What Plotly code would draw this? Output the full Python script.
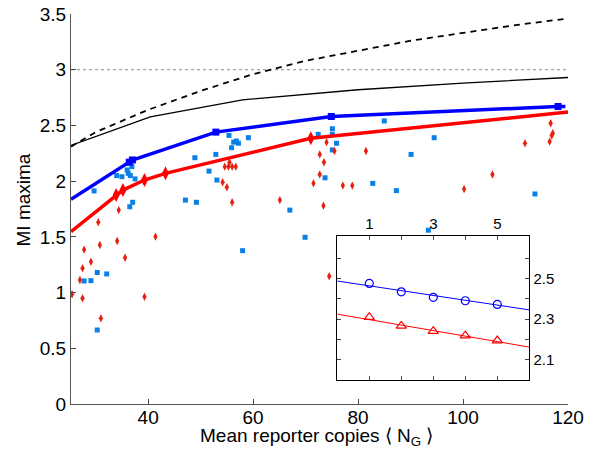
import plotly.graph_objects as go

# ---------------- data ----------------
bound_x = [25.3, 30, 40, 50, 60, 70, 80, 90, 100, 110, 120]
bound_dashed = [2.31, 2.44, 2.64, 2.81, 2.96, 3.08, 3.17, 3.26, 3.33, 3.40, 3.46]

solid_x = [25.3, 40.4, 58, 80, 100, 120]
solid_y = [2.32, 2.576, 2.73, 2.82, 2.88, 2.93]

blue_line_x = [25.3, 36.4, 37.0, 52.9, 74.9, 118.1, 119.5]
blue_line_y = [1.837, 2.17, 2.19, 2.44, 2.58, 2.67, 2.67]
blue_marker_idx = [1, 2, 3, 4, 5]

red_line_x = [25.3, 33.9, 35.2, 39.3, 43.3, 71.0, 120]
red_line_y = [1.547, 1.876, 1.92, 2.01, 2.07, 2.385, 2.62]
red_marker_idx = [1, 2, 3, 4, 5]

blue_pts_x = [29.7, 34.0, 35.0, 36.0, 36.4, 36.9, 36.2, 36.6, 37.5, 36.5, 37.05, 47.1, 49.2,
              48.9, 51.6, 52.9, 53.1, 55.4, 55.9, 56.3, 56.8, 57.2, 59.1, 67.0, 72.4, 75.1,
              75.1, 75.9, 75.1, 73.7, 85.0, 94.5, 90.1, 82.8, 87.3, 113.7, 27.8, 29.1, 30.3,
              32.1, 30.3, 58.0, 69.9, 93.4]
blue_pts_y = [1.912, 2.05, 2.04, 2.10, 2.16, 2.13, 2.07, 2.05, 2.02, 1.77, 1.81, 1.83, 1.81,
              2.21, 2.09, 2.24, 2.01, 2.41, 2.30, 2.35, 2.36, 2.34, 2.39, 1.74, 2.42, 2.47,
              2.42, 2.34, 2.28, 2.03, 2.54, 2.39, 2.24, 1.98, 1.915, 1.885, 1.104, 1.107, 1.18,
              1.167, 0.664, 1.376, 1.496, 1.56]

red_pts_x = [34.4, 55.5, 54.6, 55.3, 56.0, 56.7, 54.2, 55.0, 56.0, 65.1, 72.7, 73.5, 72.7,
             71.5, 74.0, 75.5, 73.4, 77.1, 78.9, 81.5, 100.2, 105.6, 111.8, 116.7, 117.1,
             116.9, 116.5, 25.5, 27.0, 27.5, 27.5, 27.8, 29.1, 30.5, 30.8, 31.0, 34.1, 35.6,
             39.3, 41.4, 74.5]
red_pts_y = [1.74, 2.17, 2.13, 2.13, 2.13, 2.13, 1.99, 1.945, 1.81, 1.83, 2.24, 2.17, 2.06,
             1.98, 2.35, 2.27, 1.78, 1.96, 1.96, 2.27, 1.93, 2.06, 2.34, 2.52, 2.43,
             2.41, 2.355, 0.985, 1.113, 1.218, 0.949, 1.385, 1.277, 1.631, 1.427, 0.769, 1.463,
             1.313, 0.963, 1.502, 1.146]

dotted_x = [25.3, 120]
dotted_y = [3.0, 3.0]

inset_x = [1, 2, 3, 4, 5]
inset_blue = [2.475, 2.434, 2.407, 2.39, 2.372]
inset_red = [2.309, 2.266, 2.24, 2.218, 2.194]
inset_fit_x = [0, 6]
inset_blue_fit = [2.487, 2.345]
inset_red_fit = [2.324, 2.162]

main_xticks = [40, 60, 80, 100, 120]
main_yticks = [0, 0.5, 1, 1.5, 2, 2.5, 3, 3.5]
inset_xticks = [1, 2, 3, 4, 5]
inset_xtext = ["1", "", "3", "", "5"]
inset_yticks = [2.1, 2.2, 2.3, 2.4, 2.5, 2.6]
inset_ytext = ["2.1", "", "2.3", "", "2.5", ""]

x_title = "Mean reporter copies ⟨ N<sub>G</sub> ⟩"
y_title = "MI maxima"

FONT = "Liberation Sans, Arial, sans-serif"
BLUE = "#0000ff"
RED = "#ff0000"
BLUE_PT = "#0a80e6"
RED_PT = "#e8200f"

fig = go.Figure()

# scatter clouds
fig.add_trace(go.Scatter(x=blue_pts_x, y=blue_pts_y, mode="markers",
                         marker=dict(symbol="square", size=5, color=BLUE_PT), showlegend=False))
fig.add_trace(go.Scatter(x=red_pts_x, y=red_pts_y, mode="markers",
                         marker=dict(symbol="diamond-tall", size=6, color=RED_PT), showlegend=False))

# dotted reference
fig.add_trace(go.Scatter(x=dotted_x, y=dotted_y, mode="lines",
                         line=dict(color="#888888", width=1, dash="dot"), showlegend=False))
# bounds
fig.add_trace(go.Scatter(x=bound_x, y=bound_dashed, mode="lines",
                         line=dict(color="black", width=1.8, dash="6px,5px"), showlegend=False))
fig.add_trace(go.Scatter(x=solid_x, y=solid_y, mode="lines",
                         line=dict(color="black", width=1.3), showlegend=False))

# thick lines
fig.add_trace(go.Scatter(x=blue_line_x, y=blue_line_y, mode="lines",
                         line=dict(color=BLUE, width=3.5), showlegend=False))
fig.add_trace(go.Scatter(x=[blue_line_x[i] for i in blue_marker_idx],
                         y=[blue_line_y[i] for i in blue_marker_idx], mode="markers",
                         marker=dict(symbol="square", size=7, color=BLUE), showlegend=False))
fig.add_trace(go.Scatter(x=red_line_x, y=red_line_y, mode="lines",
                         line=dict(color=RED, width=3.5), showlegend=False))
fig.add_trace(go.Scatter(x=[red_line_x[i] for i in red_marker_idx],
                         y=[red_line_y[i] for i in red_marker_idx], mode="markers",
                         marker=dict(symbol="diamond-tall", size=10, color=RED), showlegend=False))

# inset
fig.add_trace(go.Scatter(x=inset_fit_x, y=inset_blue_fit, mode="lines", xaxis="x2", yaxis="y2",
                         line=dict(color=BLUE, width=1), showlegend=False))
fig.add_trace(go.Scatter(x=inset_fit_x, y=inset_red_fit, mode="lines", xaxis="x2", yaxis="y2",
                         line=dict(color=RED, width=1), showlegend=False))
fig.add_trace(go.Scatter(x=inset_x, y=inset_blue, mode="markers", xaxis="x2", yaxis="y2",
                         marker=dict(symbol="circle-open", size=8, color=BLUE, line=dict(width=1.2)),
                         showlegend=False))
fig.add_trace(go.Scatter(x=inset_x, y=inset_red, mode="markers", xaxis="x2", yaxis="y2",
                         marker=dict(symbol="triangle-up-open", size=9, color=RED, line=dict(width=1.2)),
                         showlegend=False))

L, R, T, B = 71, 22, 14, 51
W, H = 590, 455
pw, ph = W - L - R, H - T - B
ix0, ix1 = (337.3 - L) / pw, (529.3 - L) / pw
iy0, iy1 = (H - B - 380) / ph, (H - B - 235.7) / ph

fig.update_layout(
    width=W, height=H,
    margin=dict(l=L, r=R, t=T, b=B, autoexpand=False),
    paper_bgcolor="white", plot_bgcolor="white",
    font=dict(family=FONT, size=19, color="black"),
    xaxis=dict(range=[25.3, 120], tickvals=main_xticks, ticks="inside", ticklen=5,
               showline=True, linecolor="#555555", linewidth=1, showgrid=False, zeroline=False,
               tickfont=dict(size=19), automargin=False, ticklabelstandoff=-4),
    yaxis=dict(range=[0, 3.5], tickvals=main_yticks, ticks="inside", ticklen=5,
               showline=True, linecolor="#555555", linewidth=1, showgrid=False, zeroline=False,
               tickfont=dict(size=19), automargin=False),
    xaxis2=dict(domain=[ix0, ix1], anchor="y2", side="top", range=[0, 6],
                tickvals=inset_xticks, ticktext=inset_xtext, ticks="inside", ticklen=4,
                showline=True, mirror="allticks", linecolor="black", linewidth=1.2,
                showgrid=False, zeroline=False, tickfont=dict(size=15), automargin=False),
    yaxis2=dict(domain=[iy0, iy1], anchor="x2", side="right", range=[2.0, 2.71],
                tickvals=inset_yticks, ticktext=inset_ytext, ticks="inside", ticklen=4,
                showline=True, mirror="allticks", linecolor="black", linewidth=1.2,
                showgrid=False, zeroline=False, tickfont=dict(size=15), automargin=False),
    annotations=[
        dict(text=x_title, xref="paper", yref="paper", x=(316.5 - L) / pw,
             y=(H - B - 437) / ph, xanchor="center", yanchor="middle", showarrow=False,
             font=dict(size=19)),
        dict(text=y_title, xref="paper", yref="paper", x=(22.5 - L) / pw,
             y=(H - B - 200) / ph, xanchor="center", yanchor="middle", showarrow=False,
             textangle=-90, font=dict(size=19)),
    ],
)

fig.write_html("out.html")
